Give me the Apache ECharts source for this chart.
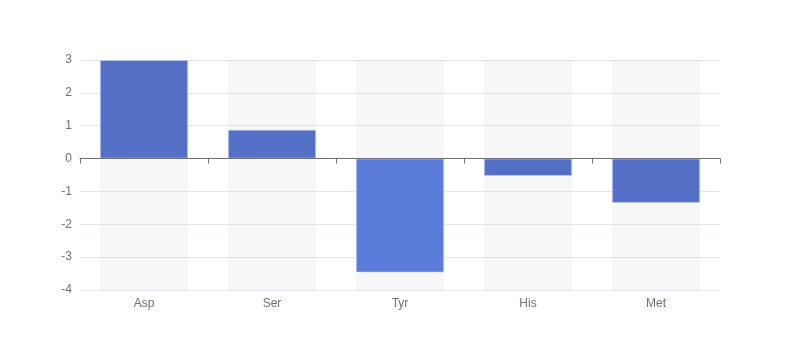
<!DOCTYPE html>
<html><head><meta charset="utf-8">
<script src="https://cdn.jsdelivr.net/npm/echarts@6/dist/echarts.min.js"></script>
<style>html,body{margin:0;padding:0;background:#fff}#c{width:800px;height:360px}</style>
</head><body><div id="c"></div>
<script>
const categories = ['Asp', 'Ser', 'Tyr', 'His', 'Met'];
const values = [3, 0.88, -3.47, -0.53, -1.35];
const yTicks = [-4, -3, -2, -1, 0, 1, 2, 3];
const highlighted = 'Tyr';

const chart = echarts.init(document.getElementById('c'), null, {renderer: 'canvas'});
chart.setOption({
  animation: false,
  grid: {left: 80, right: 80, top: 60, bottom: 70},
  xAxis: [{
    type: 'category', data: categories, position: 'bottom',
    axisLine: {onZero: false, show: false}, axisTick: {show: false},
    axisLabel: {color: '#6e7079', fontSize: 12, margin: 8}
  }, {
    type: 'category', data: categories, position: 'bottom', z: 10,
    axisLine: {onZero: true, lineStyle: {color: '#6e7079'}},
    axisTick: {show: true, lineStyle: {color: '#6e7079'}},
    axisLabel: {show: false}
  }],
  yAxis: {
    type: 'value', min: yTicks[0], max: yTicks[yTicks.length - 1], interval: 1,
    axisLine: {show: false}, axisTick: {show: false},
    axisLabel: {color: '#6e7079', fontSize: 12, margin: 8},
    splitLine: {lineStyle: {color: '#e0e6f1'}}
  },
  series: [{
    type: 'bar', xAxisIndex: 0,
    barWidth: '69%',
    showBackground: true,
    backgroundStyle: {color: 'rgba(180,180,180,0.1)'},
    itemStyle: {color: '#5470c6', borderColor: 'rgba(200,212,245,0.6)', borderWidth: 1},
    data: values.map((v, i) => categories[i] === highlighted
      ? {value: v, itemStyle: {color: '#5b7bd9'}} : v)
  }]
});
</script></body></html>
